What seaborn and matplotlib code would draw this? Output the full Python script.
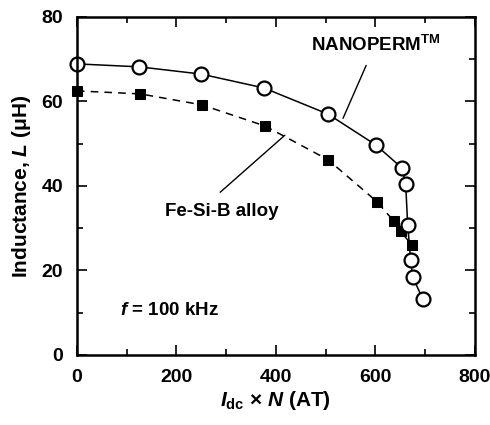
import matplotlib

matplotlib.use("Agg")

import matplotlib.pyplot as plt
import pandas as pd
import seaborn as sns
from matplotlib.ticker import MultipleLocator

nanoperm_x = [0, 125, 249, 376, 505, 601, 653, 661, 665, 671, 675, 695]
nanoperm_y = [68.9, 68.2, 66.5, 63.2, 57.0, 49.7, 44.3, 40.5, 30.8, 22.5, 18.5, 13.3]
fesib_x = [0, 127, 251, 378, 505, 603, 637, 651, 673]
fesib_y = [62.5, 61.8, 59.2, 54.2, 46.2, 36.3, 31.7, 29.3, 26.0]

sns.set_theme(style="ticks")
plt.rcParams["font.family"] = ["Liberation Sans", "DejaVu Sans"]
plt.rcParams["font.weight"] = "bold"
plt.rcParams["mathtext.fontset"] = "custom"
plt.rcParams["mathtext.rm"] = "Liberation Sans:bold"
plt.rcParams["mathtext.it"] = "Liberation Sans:italic:bold"
plt.rcParams["mathtext.bf"] = "Liberation Sans:bold"
for key in ["text.color", "axes.labelcolor", "axes.edgecolor", "xtick.color", "ytick.color"]:
    plt.rcParams[key] = "black"

nano = pd.DataFrame({"x": nanoperm_x, "y": nanoperm_y})
fesib = pd.DataFrame({"x": fesib_x, "y": fesib_y})

fig = plt.figure(figsize=(4.9, 4.25), dpi=100)
ax = fig.add_axes([0.157, 0.165, 0.812, 0.795])

sns.lineplot(data=fesib, x="x", y="y", sort=False, color="black", linewidth=1.1,
             linestyle=(0, (5, 4)), marker="s", markersize=6.5, markerfacecolor="black",
             markeredgecolor="black", ax=ax, clip_on=False)
sns.lineplot(data=nano, x="x", y="y", sort=False, color="black", linewidth=1.1,
             marker="o", markersize=10, markerfacecolor="white",
             markeredgecolor="black", markeredgewidth=1.6, ax=ax, clip_on=False)

ax.set_xlim(0, 800)
ax.set_ylim(0, 80)
ax.xaxis.set_major_locator(MultipleLocator(200))
ax.xaxis.set_minor_locator(MultipleLocator(100))
ax.yaxis.set_major_locator(MultipleLocator(20))
ax.yaxis.set_minor_locator(MultipleLocator(10))
ax.tick_params(which="both", direction="in", top=True, right=True, labelsize=14, width=1.2)
ax.tick_params(which="major", length=7, pad=10)
ax.tick_params(which="minor", length=4)
for spine in ax.spines.values():
    spine.set_linewidth(1.8)
for label in ax.get_xticklabels() + ax.get_yticklabels():
    label.set_fontweight("bold")

ax.set_xlabel(r"$I_{\rm dc}$ × $N$ (AT)", fontsize=15, fontweight="bold", labelpad=2)
ax.set_ylabel(r"Inductance, $L$ (μH)", fontsize=15, fontweight="bold", labelpad=6)

ax.annotate(r"NANOPERM$^{\rm TM}$", xy=(535, 56), xytext=(600, 73.5),
            fontsize=13.5, fontweight="bold", ha="center", va="center",
            arrowprops=dict(arrowstyle="-", color="black", lw=1.0, shrinkA=6, shrinkB=0))
ax.annotate("", xy=(418, 52), xytext=(288, 38.5),
            arrowprops=dict(arrowstyle="-", color="black", lw=1.0, shrinkA=0, shrinkB=0))
ax.text(292, 34, "Fe-Si-B alloy", fontsize=13.5, fontweight="bold", ha="center", va="center")
ax.text(86, 10.5, r"$f$ = 100 kHz", fontsize=13.5, fontweight="bold", ha="left", va="center")

fig.savefig("out.png", dpi=100)
